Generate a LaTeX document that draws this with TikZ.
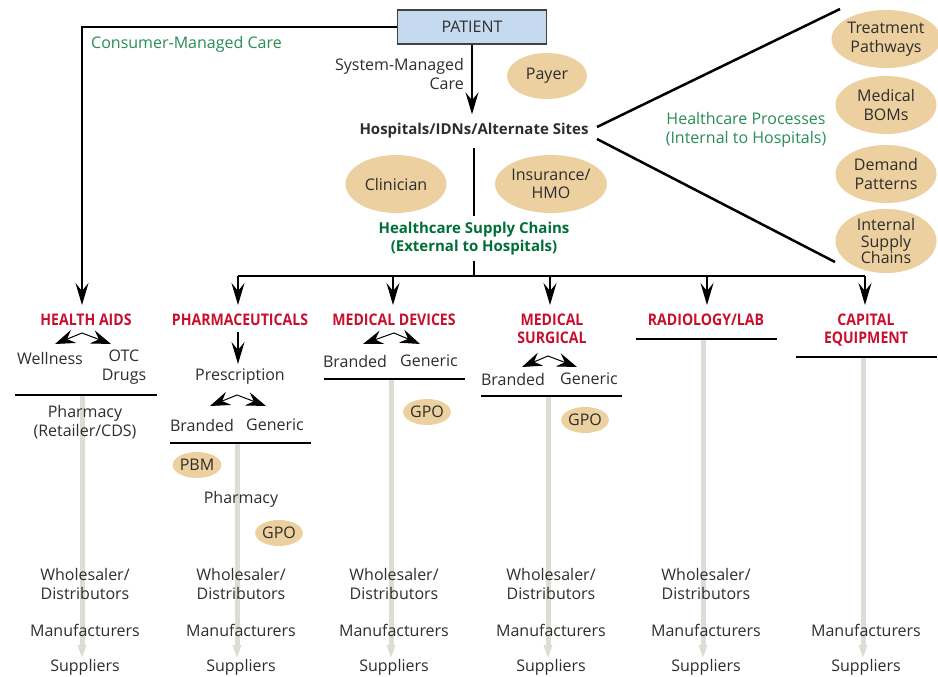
\documentclass[tikz,border=0pt]{standalone}
\usepackage{fontspec}
\setmainfont{Open Sans}
\newfontfamily\hdrfont[FakeStretch=0.88]{Open Sans}
\usetikzlibrary{arrows.meta,shapes.geometric}
\definecolor{txt}{RGB}{45,45,45}
\definecolor{tan}{RGB}{236,208,160}
\definecolor{pblue}{RGB}{197,218,238}
\definecolor{grn}{RGB}{40,140,85}
\definecolor{dgrn}{RGB}{0,110,55}
\definecolor{hred}{RGB}{200,16,46}
\definecolor{gline}{RGB}{222,221,213}
\begin{document}
\begin{tikzpicture}[x=1pt,y=-1pt,
 every node/.style={text=txt, font=\fontsize{16}{18.5}\selectfont, inner sep=0pt, align=center},
 oval/.style={ellipse, fill=tan, minimum width=101pt, minimum height=58pt},
 sm/.style={ellipse, fill=tan, minimum width=46pt, minimum height=26pt},
 hdr/.style={text=hred, font=\hdrfont\fontsize{16}{18}\selectfont\bfseries, anchor=north},
 bigarr/.style={draw=black, line width=1.3pt, -{Stealth[length=22pt,width=13pt,inset=8pt]}},
 dblarr/.style={draw=black, line width=1pt, {Stealth[length=20pt,width=14pt,inset=7pt]}-{Stealth[length=20pt,width=14pt,inset=7pt]}},
 bar/.style={draw=black, line width=2.5pt},
 grayarr/.style={draw=gline, line width=5pt, -{Triangle[length=14pt,width=8pt]}},
 conn/.style={draw=black, line width=1.3pt},
 diag/.style={draw=black, line width=2.5pt}]
\useasboundingbox (0,0) rectangle (938,677);

% top
\node[draw=black!75, line width=1.3pt, fill=pblue, minimum width=149pt, minimum height=34pt] (pat) at (472,27) {PATIENT};
\node[text=grn, anchor=west] (cmc) at (91,44) {Consumer-Managed Care};
\node[anchor=east, align=right] (smc) at (464,74) {System-Managed\\Care};
\node[oval, minimum width=80pt, minimum height=46pt] (payer) at (547,76) {Payer};
\node[font=\fontsize{15}{18}\selectfont\bfseries] (hosp) at (474,131) {Hospitals/IDNs/Alternate Sites};
\node[text=grn] (hproc) at (746,130) {Healthcare Processes\\(Internal to Hospitals)};
\node[oval] (clin) at (396,184) {Clinician};
\node[oval] (ins) at (551,184) {Insurance/\\HMO};
\node[text=dgrn, font=\fontsize{15}{18}\selectfont\bfseries] (hsc) at (474,239) {Healthcare Supply Chains\\(External to Hospitals)};

\node[oval] (tp) at (886,39) {Treatment\\Pathways};
\node[oval] (mb) at (886,105) {Medical\\BOMs};
\node[oval] (dp) at (886,174) {Demand\\Patterns};
\node[oval, font=\fontsize{16}{16.5}\selectfont] (isc) at (886,241) {Internal\\Supply\\Chains};

\draw[bigarr, shorten >=9pt] (pat.south) -- (pat.south |- hosp.north);
\coordinate (ho1) at (597,127);
\coordinate (ho2) at (597,139);
\coordinate (d1) at (840,9);
\coordinate (d2) at (835,262);
\draw[diag] (ho1) -- (d1);
\draw[diag] (ho2) -- (d2);
\draw[conn, shorten <=9pt, shorten >=6pt] (hosp.south) -- (hsc.north);

% bar
\coordinate (bj) at (474,276);
\coordinate (b2) at (238,276);
\coordinate (b3) at (393,276);
\coordinate (b4) at (550,276);
\coordinate (b5) at (707,276);
\coordinate (b6) at (865,276);
\draw[conn, shorten <=5pt] (hsc.south) -- (bj);
\draw[draw=black, line width=2pt] (b2) -- (b6);

% headers
\node[hdr] (h1) at (86,314) {HEALTH AIDS};
\node[hdr] (h2) at (240,314) {PHARMACEUTICALS};
\node[hdr] (h3) at (394,314) {MEDICAL DEVICES};
\node[hdr] (h4) at (552,314) {MEDICAL\\SURGICAL};
\node[hdr] (h5) at (706,314) {RADIOLOGY/LAB};
\node[hdr] (h6) at (866,314) {CAPITAL\\EQUIPMENT};

\draw[bigarr, shorten >=9pt] (pat.west) -| (h1.north -| 82,0);
\foreach \b/\h in {b2/h2,b3/h3,b4/h4,b5/h5,b6/h6}
  \draw[bigarr, shorten >=9pt] (\b) -- (\b |- \h.north);

% bars under columns
\coordinate (l1) at (15,395);  \coordinate (r1) at (157,395);
\coordinate (l2) at (170,443); \coordinate (r2) at (311,443);
\coordinate (l3) at (324,379); \coordinate (r3) at (465,379);
\coordinate (l4) at (481,396); \coordinate (r4) at (622,396);
\coordinate (l5) at (636,339); \coordinate (r5) at (777,339);
\coordinate (l6) at (796,357); \coordinate (r6) at (937,357);

% gray flows
\coordinate (g1) at (82,395);  \coordinate (e1) at (82,659);
\coordinate (g2) at (237,443); \coordinate (e2) at (237,659);
\coordinate (g3) at (391,379); \coordinate (e3) at (391,659);
\coordinate (g4) at (548,396); \coordinate (e4) at (548,659);
\coordinate (g5) at (703,339); \coordinate (e5) at (703,659);
\coordinate (g6) at (863,357); \coordinate (e6) at (863,659);
\foreach \i in {1,...,6} \draw[grayarr] (g\i) -- (e\i);
\foreach \i in {1,...,6} \draw[bar] (l\i) -- (r\i);

% health aids column
\coordinate (ha-l) at (55,344); \coordinate (ha-a) at (82,333); \coordinate (ha-r) at (111,344);
\draw[dblarr] (ha-l) -- (ha-a) -- (ha-r);
\node (well) at (50,358) {Wellness};
\node (otc) at (124,367) {OTC\\Drugs};
\node (phr1) at (85,422) {Pharmacy\\(Retailer/CDS)};

% pharmaceuticals column
\node (presc) at (240,377) {Prescription};
\draw[bigarr, shorten <=6pt, shorten >=5pt] (h2.south -| 238,0) -- (presc.north -| 238,0);
\coordinate (ph-l) at (210,406); \coordinate (ph-a) at (237,395); \coordinate (ph-r) at (266,406);
\draw[dblarr] (ph-l) -- (ph-a) -- (ph-r);
\node (br2) at (202,425) {Branded};
\node (ge2) at (275,425) {Generic};
\node[sm] (pbm) at (197,465) {PBM};
\node (phr2) at (241,499) {Pharmacy};
\node[sm] (gpo2) at (279,533) {GPO};

% medical devices column
\coordinate (md-l) at (363,344); \coordinate (md-a) at (394,333); \coordinate (md-r) at (420,344);
\draw[dblarr] (md-l) -- (md-a) -- (md-r);
\node (br3) at (355,361) {Branded};
\node (ge3) at (429,361) {Generic};
\node[sm] (gpo3) at (427,412) {GPO};

% medical surgical column
\coordinate (ms-l) at (522,367); \coordinate (ms-a) at (548,356); \coordinate (ms-r) at (577,367);
\draw[dblarr] (ms-l) -- (ms-a) -- (ms-r);
\node (br4) at (513,379) {Branded};
\node (ge4) at (589,379) {Generic};
\node[sm] (gpo4) at (585,420) {GPO};

% bottom rows
\foreach \x/\n in {85/1,241/2,394/3,551/4,706/5} {
  \node (w\n) at (\x,584) {Wholesaler/\\Distributors};
}
\foreach \x/\n in {85/1,241/2,394/3,551/4,706/5,866/6} {
  \node (m\n) at (\x,630) {Manufacturers};
  \node (s\n) at (\x,667) {Suppliers};
}
\end{tikzpicture}
\end{document}
